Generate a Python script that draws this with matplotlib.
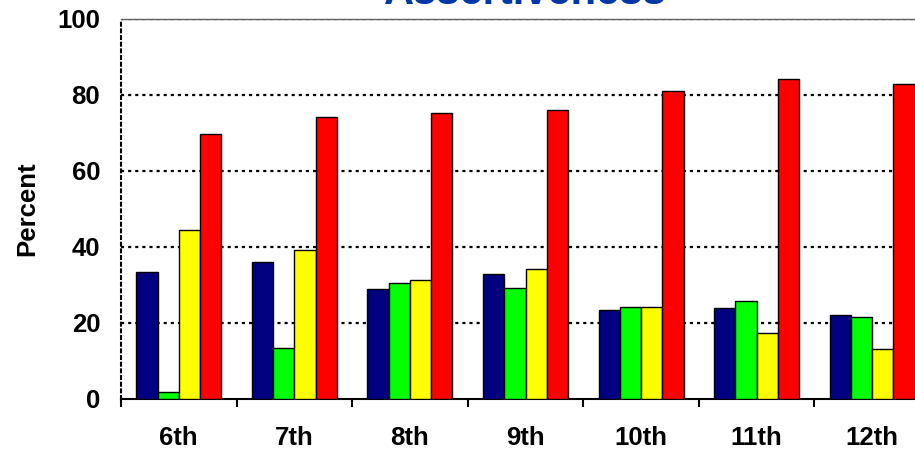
import matplotlib
matplotlib.use("Agg")
import matplotlib.pyplot as plt
import numpy as np

plt.rcParams['font.family'] = ['Liberation Sans', 'DejaVu Sans']

categories = ['6th', '7th', '8th', '9th', '10th', '11th', '12th']
series_navy = [33.4, 35.9, 28.9, 32.8, 23.3, 23.9, 22.1]
series_green = [1.7, 13.3, 30.4, 29.1, 24.2, 25.8, 21.4]
series_yellow = [44.3, 39.1, 31.3, 34.1, 24.2, 17.2, 13.0]
series_red = [69.7, 74.2, 75.3, 76.1, 81.1, 84.1, 82.7]
y_ticks = [0, 20, 40, 60, 80, 100]
title = 'Assertiveness'
ylabel = 'Percent'

colors = ['#000080', '#00ff00', '#ffff00', '#ff0000']
series = [series_navy, series_green, series_yellow, series_red]

W, H = 915, 451
fig = plt.figure(figsize=(W / 100, H / 100), dpi=100)
left_px, right_px, top_px, bot_px = 121, 930, 18.7, 398.7
ax = fig.add_axes([left_px / W, 1 - bot_px / H, (right_px - left_px) / W, (bot_px - top_px) / H])

x = np.arange(len(categories))
w = 0.184
for k, (vals, c) in enumerate(zip(series, colors)):
    ax.bar(x + (k - 1.5) * w, vals, width=w, color=c, edgecolor='black', linewidth=1.0, zorder=3)

ax.set_xlim(-0.5, len(categories) - 0.5)
ax.set_ylim(0, 100)

# gridlines
for yv in y_ticks[1:]:
    ax.axhline(yv, color='black', linestyle=(0, (1.4, 1.8)), linewidth=1.6, zorder=1)

ax.set_yticks(y_ticks)
ax.set_yticklabels([str(v) for v in y_ticks], fontsize=18.5, fontweight='bold')
ax.tick_params(axis='y', length=0, pad=15)

ax.set_xticks(x)
ax.set_xticklabels(categories, fontsize=18.5, fontweight='bold')
ax.tick_params(axis='x', which='major', length=0, pad=20)
ax.set_xticks(np.arange(len(categories) + 1) - 0.5, minor=True)
ax.tick_params(axis='x', which='minor', length=6, width=1.5, color='black', direction='out')

ax.spines['top'].set_color('#606060')
ax.spines['top'].set_linewidth(1.0)
ax.spines['right'].set_visible(False)
ax.spines['bottom'].set_color('black')
ax.spines['bottom'].set_linewidth(1.5)
ax.spines['left'].set_color('black')
ax.spines['left'].set_linewidth(1.5)
ax.spines['left'].set_linestyle((0, (1.4, 1.8)))

ax.set_ylabel(ylabel, fontsize=18.5, fontweight='bold', labelpad=13)

cx = (left_px + right_px) / 2 / W
fig.text(cx, 1 - 4 / H, title, ha='center', va='baseline', fontsize=30,
         fontweight='bold', color='#0038a8')

fig.savefig('out.png', dpi=100)
